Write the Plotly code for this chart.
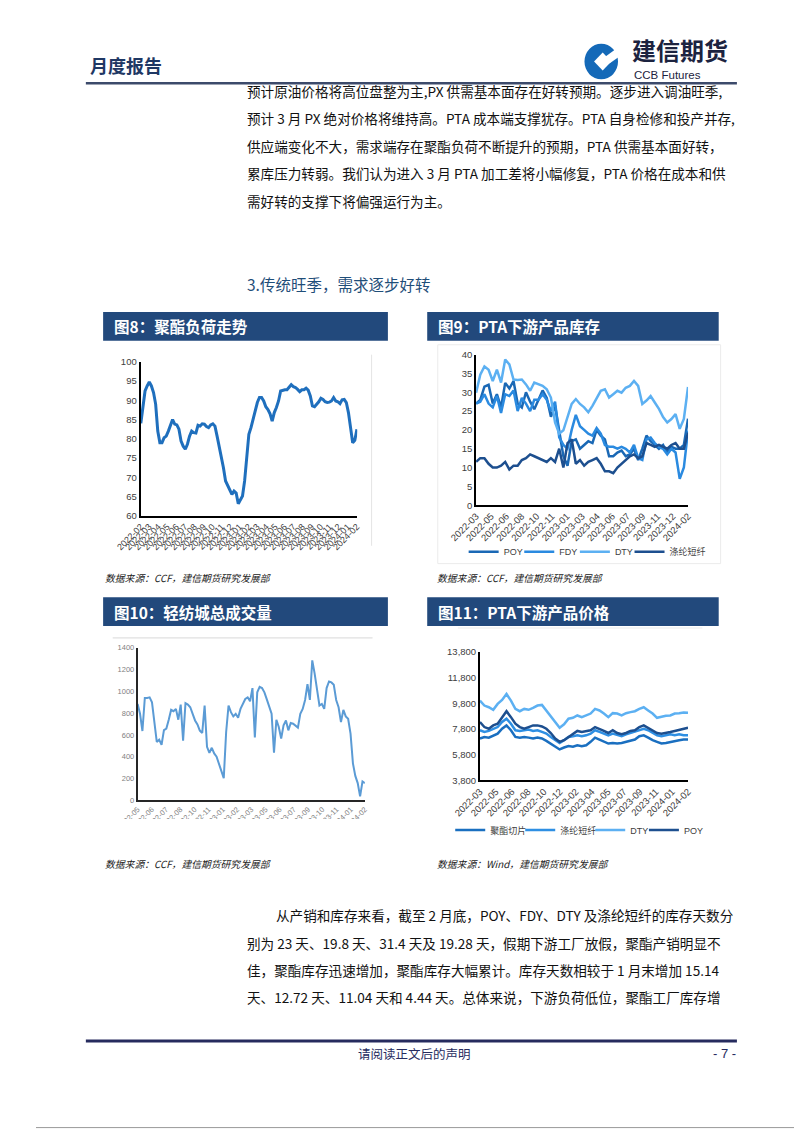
import numpy as np
import pandas as pd
import plotly.graph_objects as go

W, H = 802, 1133
# the page body adds an 8 px margin around the figure; positions below are page pixels
OX, OY = 8, 8


def px(x):
    return (x - OX) / W


def py(y):
    return 1 - (y - OY) / H


CJK = "Noto Sans CJK SC"
ARIAL = "Liberation Sans, Noto Sans CJK SC"
NAVY = "#22497c"

# ---- 图8 聚酯负荷 (weekly, %) ----
load_start, load_end = "2022-02-01", "2024-02-01"
polyester_load = [
    84.0, 88.0, 92.4, 93.7, 94.7, 93.7, 92.0, 89.0, 82.0, 79.0, 79.0, 80.3, 80.7,
    82.0, 83.6, 85.0, 83.8, 83.6, 82.5, 79.4, 78.1, 77.3, 78.6, 80.7, 82.0, 81.6,
    81.5, 83.5, 83.3, 83.9, 83.8, 83.2, 82.9, 83.6, 83.9, 83.3, 80.7, 78.1, 76.0,
    72.5, 69.1, 68.0, 66.5, 65.6, 66.5, 66.0, 63.2, 64.3, 65.2, 69.1, 76.0, 81.2,
    82.9, 85.0, 87.2, 89.4, 90.7, 90.7, 89.8, 88.3, 87.6, 86.5, 84.6, 86.8, 88.1,
    89.8, 92.4, 92.6, 92.7, 92.7, 93.3, 94.0, 93.5, 93.3, 92.8, 92.2, 92.7, 92.7,
    93.1, 92.6, 91.1, 88.5, 88.3, 88.9, 89.6, 90.5, 90.2, 89.6, 89.4, 89.5, 89.8,
    90.7, 89.8, 89.6, 89.1, 90.1, 90.2, 89.4, 86.8, 82.9, 79.0, 79.6, 82.5,
]

# ---- 图9 PTA下游产品库存 (days) ----
inv_labels = ["2022-03", "2022-05", "2022-06", "2022-08", "2022-10", "2022-11",
              "2023-01", "2023-03", "2023-04", "2023-06", "2023-07", "2023-09",
              "2023-11", "2023-12", "2024-02"]
inv_poy = [27, 28, 31.5, 32, 27, 29.5, 26, 32.5, 31, 33, 27, 26, 30, 27.5, 25.5, 28,
           30.5, 28.5, 23.5, 26.5, 20, 13, 10.5, 17, 17.5, 15, 16, 17, 16.5, 20, 18.5,
           17.5, 13, 13, 14, 14.5, 13, 13.5, 15, 12, 15, 18.5, 17, 16, 15, 16, 14,
           15.5, 15, 15, 16, 23]
inv_fdy = [27, 27.5, 29.5, 27, 26, 29, 24.5, 29.5, 29, 30.5, 25, 28.5, 27, 25, 28, 28,
           29.5, 28, 25, 27.5, 18, 16, 15, 20, 24, 21, 20, 19, 18.5, 20.5, 19, 16,
           15.5, 15.5, 15, 15.5, 15, 14, 16, 12.5, 12, 17.5, 18, 16.5, 15.5, 15,
           13.5, 15, 14, 7, 10, 19.8]
inv_dty = [29.9, 34.7, 36.9, 36, 33, 36, 32.6, 38.7, 37.4, 33.4, 33.3, 33.4, 32.1,
           30.4, 32.6, 32.1, 31.7, 30.8, 28.6, 22, 19, 19.9, 23.4, 26.9, 28.2, 26.9,
           26, 24.7, 26.4, 28.6, 30.4, 30.8, 28.6, 29.5, 30.4, 29.9, 31.2, 31.7, 33,
           31.7, 26.9, 27.8, 29, 27.3, 25.6, 23.4, 22, 22.9, 24.2, 20.3, 22.9, 31.4]
inv_psf = [11.5, 12.5, 12.5, 11, 10, 10, 10.5, 11.5, 9.5, 10.5, 10.5, 12, 12.5, 13.5,
           13, 12.5, 12, 11.5, 12.5, 11.5, 15, 10, 16.5, 17.5, 11, 12, 10.5, 11.5, 12,
           12.5, 11, 9, 9, 8.5, 10, 11, 12, 13, 13.5, 12.5, 13, 16.5, 16, 15.5, 16,
           15.5, 15, 16, 16.5, 15, 15, 19.28]

# ---- 图10 轻纺城总成交量 ----
vol_labels = ["2022-05", "2022-06", "2022-07", "2022-08", "2022-10", "2022-11",
              "2023-01", "2023-02", "2023-03", "2023-05", "2023-06", "2023-07",
              "2023-09", "2023-10", "2023-11", "2024-01", "2024-02"]
volume = [885, 794, 636, 940, 940, 945, 900, 690, 536, 557, 510, 645, 658, 739, 830,
          818, 839, 740, 879, 548, 891, 879, 854, 794, 733, 697, 640, 618, 870, 491,
          436, 482, 430, 400, 339, 279, 203, 627, 870, 809, 770, 794, 758, 839, 891,
          930, 945, 909, 1030, 576, 991, 1042, 1030, 991, 927, 848, 794, 436, 739,
          673, 567, 688, 733, 642, 709, 703, 688, 667, 794, 839, 921, 1066, 921, 1285,
          1163, 1012, 870, 885, 839, 1030, 1091, 1082, 1060, 921, 854, 718, 830, 770,
          748, 612, 339, 224, 158, 36, 173, 158]

# ---- 图11 PTA下游产品价格 (元/吨) ----
price_labels = ["2022-03", "2022-05", "2022-06", "2022-08", "2022-10", "2022-12",
                "2023-02", "2023-04", "2023-05", "2023-07", "2023-09", "2023-11",
                "2024-01", "2024-02"]
price_chip = [7060, 7180, 7130, 7310, 7440, 7820, 8080, 7700, 7180, 7130, 7180, 7130,
              7060, 7130, 7060, 6880, 6670, 6420, 6210, 6360, 6470, 6420, 6540, 6470,
              6540, 6800, 7130, 6980, 6800, 6670, 6720, 6670, 6720, 6800, 6880, 6980,
              7240, 7310, 7130, 6930, 6800, 6670, 6720, 6800, 6880, 6930, 6980, 6980]
price_psf = [7700, 7570, 7650, 7820, 7950, 8340, 8600, 8210, 7700, 7650, 7700, 7750,
             7650, 7700, 7570, 7440, 7180, 6930, 6720, 6930, 7180, 7240, 7310, 7240,
             7310, 7440, 7700, 7570, 7440, 7310, 7440, 7310, 7240, 7390, 7490, 7570,
             7700, 7820, 7700, 7490, 7310, 7240, 7310, 7390, 7310, 7390, 7310, 7310]
price_dty = [10000, 9620, 9490, 9290, 9750, 10060, 10520, 10000, 9360, 9180, 9360, 9290,
             9440, 9620, 9670, 9240, 8720, 8340, 7900, 8160, 8600, 8670, 8850, 8720,
             8850, 9000, 9360, 9240, 9000, 8720, 9030, 9000, 8850, 9030, 9110, 9180,
             9360, 9490, 9240, 9000, 8670, 8770, 8820, 8850, 9000, 9030, 9080, 9060]
price_poy = [8340, 7950, 7820, 8080, 8210, 8720, 9180, 8720, 8210, 7950, 7820, 7950,
             8080, 8080, 8000, 7820, 7490, 7060, 6800, 6930, 7180, 7440, 7650, 7570,
             7650, 7700, 7950, 7820, 7650, 7490, 7700, 7490, 7390, 7490, 7650, 7700,
             7950, 8080, 7900, 7700, 7490, 7440, 7490, 7570, 7650, 7750, 7820, 7900]

top_paragraph = [
    "预计原油价格将高位盘整为主,PX 供需基本面存在好转预期。逐步进入调油旺季,",
    "预计 3 月 PX 绝对价格将维持高。PTA 成本端支撑犹存。PTA 自身检修和投产并存,",
    "供应端变化不大，需求端存在聚酯负荷不断提升的预期，PTA 供需基本面好转，",
    "累库压力转弱。我们认为进入 3 月 PTA 加工差将小幅修复，PTA 价格在成本和供",
    "需好转的支撑下将偏强运行为主。",
]
bottom_paragraph = [
    "从产销和库存来看，截至 2 月底，POY、FDY、DTY 及涤纶短纤的库存天数分",
    "别为 23 天、19.8 天、31.4 天及 19.28 天，假期下游工厂放假，聚酯产销明显不",
    "佳，聚酯库存迅速增加，聚酯库存大幅累计。库存天数相较于 1 月末增加 15.14",
    "天、12.72 天、11.04 天和 4.44 天。总体来说，下游负荷低位，聚酯工厂库存增",
]

fig = go.Figure()

# chart 8
load_dates = pd.date_range(load_start, load_end, periods=len(polyester_load))
fig.add_trace(go.Scatter(x=load_dates, y=polyester_load, mode="lines",
                         line=dict(color="#1f6fbd", width=3), showlegend=False,
                         xaxis="x", yaxis="y"))

# chart 9 (one small legend per entry so the row can be packed like the source)
inv_x = np.arange(len(inv_poy))
inv_series = [("POY", inv_poy, "#1a68b5"), ("FDY", inv_fdy, "#2a8ae0"),
              ("DTY", inv_dty, "#5cb0f2"), ("涤纶短纤", inv_psf, "#1d4f8f")]
for i, (name, vals, color) in enumerate(inv_series):
    fig.add_trace(go.Scatter(x=inv_x, y=vals, name=name, mode="lines",
                             line=dict(color=color, width=2.5),
                             xaxis="x2", yaxis="y2",
                             legend="legend" if i == 0 else f"legend{i + 1}"))

# chart 10
vol_x = np.arange(len(volume))
fig.add_trace(go.Scatter(x=vol_x, y=volume, mode="lines",
                         line=dict(color="#5b9bd5", width=2), showlegend=False,
                         xaxis="x3", yaxis="y3"))

# chart 11
price_x = np.arange(len(price_chip))
price_series = [("聚酯切片", price_chip, "#1a6fc0"), ("涤纶短纤", price_psf, "#2e8fe3"),
                ("DTY", price_dty, "#5cb0f2"), ("POY", price_poy, "#1d4f8f")]
for i, (name, vals, color) in enumerate(price_series):
    fig.add_trace(go.Scatter(x=price_x, y=vals, name=name, mode="lines",
                             line=dict(color=color, width=2.5),
                             xaxis="x4", yaxis="y4", legend=f"legend{i + 5}"))


def axis(**kw):
    base = dict(showgrid=False, zeroline=False, showline=True, linecolor="black",
                linewidth=1.8, ticks="", tickfont=dict(size=9.5, color="#404040"))
    base.update(kw)
    return base


def legend_at(line_x, y):
    # the legend swatch starts 5 px inside the legend box
    return dict(x=px(line_x - 5), y=py(y), xanchor="left", yanchor="middle",
                orientation="h", bgcolor="rgba(0,0,0,0)", itemwidth=30,
                font=dict(size=9, color="#404040", family=ARIAL))


legends = {}
for i, lx in enumerate([459, 517, 575, 632]):
    legends["legend" if i == 0 else f"legend{i + 1}"] = legend_at(lx, 551)
for i, lx in enumerate([445, 518, 591, 647]):
    legends[f"legend{i + 5}"] = legend_at(lx, 832)

fig.update_layout(
    width=W, height=H, margin=dict(l=0, r=0, t=0, b=0),
    paper_bgcolor="white", plot_bgcolor="white",
    font=dict(family=ARIAL, color="#404040"),
    xaxis=axis(domain=[px(117), px(343)], anchor="y", type="date",
               range=["2022-01-31", "2024-02-02"], tick0="2022-02-01", dtick="M1",
               tickformat="%Y-%m", tickangle=-45, tickfont=dict(size=9, color="#404040")),
    yaxis=axis(domain=[py(515), py(359)], anchor="x", range=[60, 100],
               tickvals=list(range(60, 101, 5))),
    xaxis2=axis(domain=[px(467), px(688)], anchor="y2", range=[0, len(inv_poy) - 1],
                tickvals=np.linspace(0, len(inv_poy) - 1, len(inv_labels)),
                ticktext=inv_labels, tickangle=-45),
    yaxis2=axis(domain=[py(504), py(352)], anchor="x2", range=[0, 40],
                tickvals=list(range(0, 41, 5))),
    xaxis3=axis(domain=[px(114), px(351)], anchor="y3", range=[0, len(volume) - 1],
                tickvals=np.linspace(0, len(volume) - 1, len(vol_labels)),
                ticktext=vol_labels, tickangle=-45,
                tickfont=dict(size=7.5, color="#7f7f7f"), linecolor="#262626"),
    yaxis3=axis(domain=[py(802), py(648)], anchor="x3", range=[0, 1400],
                tickvals=list(range(0, 1401, 200)),
                tickfont=dict(size=7.5, color="#7f7f7f"), linecolor="#262626"),
    xaxis4=axis(domain=[px(471), px(688)], anchor="y4", range=[0, len(price_chip) - 1],
                tickvals=np.linspace(0, len(price_chip) - 1, len(price_labels)),
                ticktext=price_labels, tickangle=-45),
    yaxis4=axis(domain=[py(782), py(652)], anchor="x4", range=[3800, 13800],
                tickvals=list(range(3800, 13801, 2000)), tickformat=","),
    **legends,
)

shapes = []
ann = []


def text(x, y, s, size, color="#111111", xanchor="left", family=CJK, weight="normal",
         style="normal"):
    ann.append(dict(x=px(x), y=py(y), xref="paper", yref="paper", text=s,
                    showarrow=False, xanchor=xanchor, yanchor="middle",
                    font=dict(size=size, color=color, family=family, weight=weight,
                              style=style)))


def line(x0, y0, x1, y1, color, width):
    shapes.append(dict(type="line", xref="paper", yref="paper", x0=px(x0), y0=py(y0),
                       x1=px(x1), y1=py(y1), line=dict(color=color, width=width)))


def rect(x0, y0, x1, y1, fill, line_color=None, layer="below"):
    shapes.append(dict(type="rect", xref="paper", yref="paper", x0=px(x0), y0=py(y0),
                       x1=px(x1), y1=py(y1), fillcolor=fill, layer=layer,
                       line=dict(color=line_color or "rgba(0,0,0,0)", width=1)))


def poly(points, fill):
    path = "M " + " L ".join(f"{px(a):.5f},{py(b):.5f}" for a, b in points) + " Z"
    shapes.append(dict(type="path", xref="paper", yref="paper", path=path,
                       fillcolor=fill, line=dict(width=0)))


# page frame (right and bottom edges)
line(801.5, 8, 801.5, 1133, "#9a9a9a", 1)
line(8, 1132.5, 802, 1132.5, "#9a9a9a", 1)

# header
text(62, 60, "月度报告", 18, "#1f3864", weight="bold")
shapes.append(dict(type="circle", xref="paper", yref="paper", x0=px(580), x1=px(615),
                   y0=py(74), y1=py(38), fillcolor="#1469b8", line=dict(width=0)))
poly([(599, 47), (608, 56), (599, 65), (590, 56)], "white")
poly([(602, 51), (616, 41), (618, 50), (606, 58)], "white")
text(628, 44, "建信期货", 24, "#1c2340", weight="bold")
text(630, 70, "CCB Futures", 11.5, "#1c2340", family=ARIAL)
line(60, 78, 739, 78, "#3c4a6b", 2.5)

for i, s in enumerate(top_paragraph):
    text(226, [86, 113, 141, 169, 197][i], s, 13.6)

text(226, 281, "3.传统旺季，需求逐步好转", 15.5, "#1f4e79")

# chart title bars
for x0, y0, x1, y1, label in [(78, 309, 375, 338, "图8：聚酯负荷走势"),
                              (416, 309, 720, 338, "图9：PTA下游产品库存"),
                              (78, 597, 375, 626, "图10：轻纺城总成交量"),
                              (416, 597, 720, 626, "图11：PTA下游产品价格")]:
    rect(x0, y0, x1, y1, NAVY)
    text(x0 + 9, (y0 + y1) / 2, label, 15.5, "white", weight="bold")

# faint chart frames
line(358, 352, 358, 545, "#e4e4e4", 1)
rect(427, 342, 722, 563, "rgba(0,0,0,0)", "#ebebeb")
line(88, 638, 359, 638, "#e0e0e0", 1.2)
line(448, 628, 703, 628, "#ececec", 1.2)

# chart 10 labels are clipped by the image edge in the source
rect(76, 821, 378, 856, "white", layer="above")

for x, y, s in [(78, 578, "数据来源：CCF，建信期货研究发展部"),
                (424, 578, "数据来源：CCF，建信期货研究发展部"),
                (78, 866, "数据来源：CCF，建信期货研究发展部"),
                (424, 866, "数据来源：Wind，建信期货研究发展部")]:
    text(x, y, s, 9.8, "#222222", style="italic")

for i, s in enumerate(bottom_paragraph):
    text(256 if i == 0 else 226, [918, 946, 973, 1001][i], s, 13.6)

# footer
line(60, 1045, 739, 1045, "#262b5e", 3)
text(403, 1058, "请阅读正文后的声明", 12.5, "#262b5e", xanchor="center")
text(740, 1058, "- 7 -", 13, "#262b5e", xanchor="right", family=ARIAL)

fig.update_layout(shapes=shapes, annotations=ann)
fig.write_html("out.html")
